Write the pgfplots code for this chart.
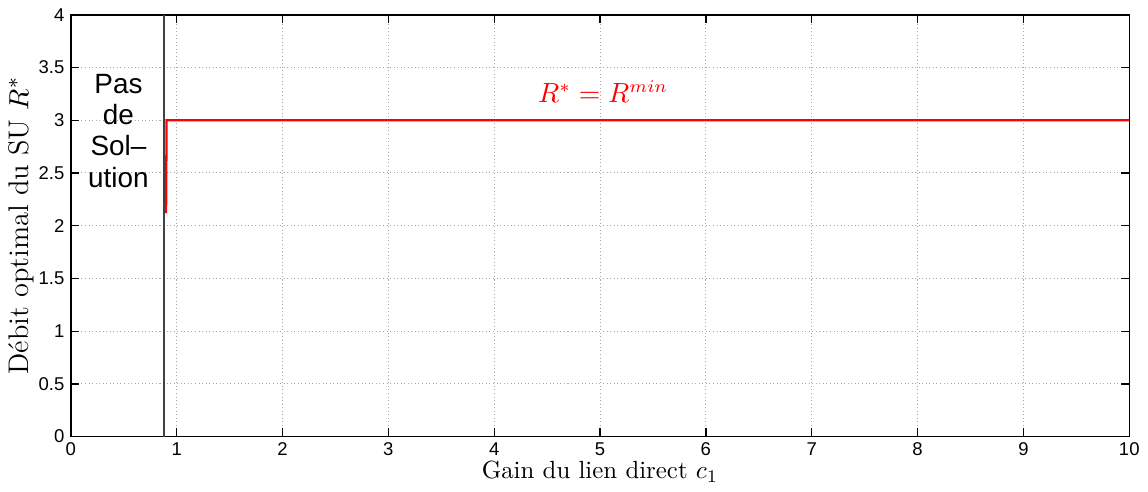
\documentclass[border=0pt]{standalone}
\usepackage{pgfplots}
\pgfplotsset{compat=1.18}
\usepackage{fontspec}
\setsansfont{Liberation Sans}
\begin{document}
\begin{tikzpicture}
\begin{axis}[
  scale only axis,
  width=14.68cm, height=5.85cm,
  xmin=0, xmax=10, ymin=0, ymax=4,
  xtick={0,1,...,10}, ytick={0,0.5,...,4},
  tick align=inside,
  major tick length=0.12cm,
  tick style={black, line width=0.5pt},
  xmajorgrids, ymajorgrids,
  grid style={densely dotted, gray!70, line width=0.4pt},
  axis line style={line width=0.6pt},
  /pgf/number format/assume math mode=true,
  ticklabel style={font=\sffamily\fontsize{7.3}{8}\selectfont},
  xticklabel style={yshift=1pt},
  yticklabel style={xshift=1pt},
  xlabel={Gain du lien direct $c_1$},
  ylabel={Débit optimal du SU $R^*$},
  xlabel style={font=\fontsize{9.8}{11}\selectfont, yshift=5pt},
  ylabel style={font=\fontsize{11.2}{12}\selectfont, yshift=-5pt},
  clip=true,
]
\addplot[black!75, line width=0.5pt] coordinates {(0.88,0) (0.88,4)};
\addplot[red, line width=0.9pt] coordinates {(0.9,2.12) (0.905,3.0) (10,3.0)};
\node[font=\sffamily\fontsize{11}{12.4}\selectfont, align=center] at (axis cs:0.45,2.9) {Pas\\de\\Sol--\\ution};
\node[red, font=\fontsize{10.5}{12}\selectfont] at (axis cs:5.03,3.27) {$R^* = R^{min}$};
\end{axis}
\path (0,-0.76cm) (14.9cm,0);
\end{tikzpicture}
\end{document}
